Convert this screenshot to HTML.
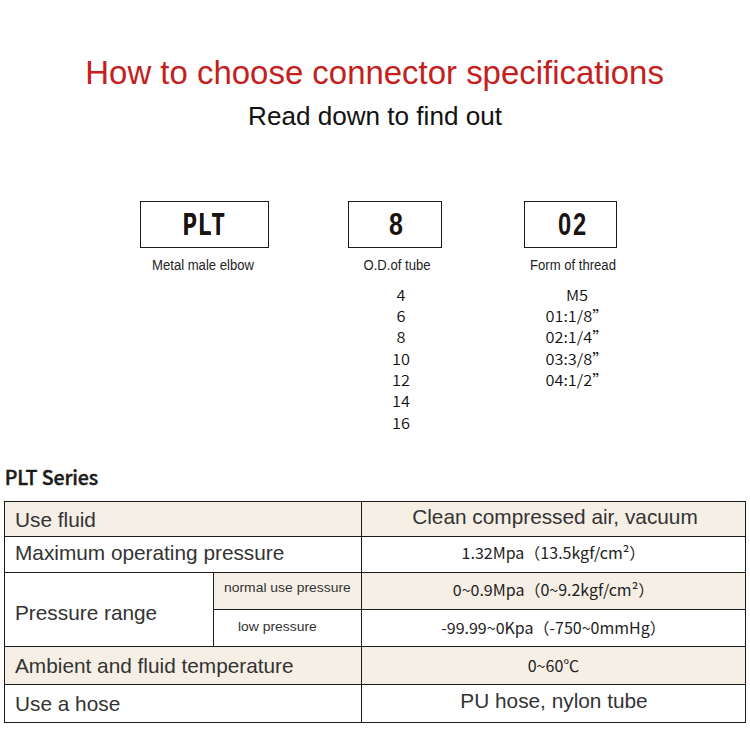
<!DOCTYPE html>
<html><head><meta charset="utf-8">
<style>
html,body{margin:0;padding:0;background:#fff;}
body{width:750px;height:750px;position:relative;overflow:hidden;font-family:"Liberation Sans",sans-serif;color:#222;}
.abs{position:absolute;white-space:nowrap;line-height:1;}
#title{left:-0.4px;width:750px;text-align:center;top:57px;font-size:32.95px;color:#c4201c;}
#sub{left:0;width:750px;text-align:center;top:103.4px;font-size:26.1px;color:#111;}
.box{position:absolute;border:1px solid #1a1a1a;box-sizing:border-box;top:201px;height:47px;}
.box span{position:absolute;left:0;right:0;top:5px;text-align:center;font-weight:bold;font-size:32px;line-height:34px;color:#1a1311;transform-origin:50% 50%;}
.cap{font-size:14px;color:#222;top:258px;text-align:center;transform:scaleX(0.935);}
.list{font-family:"Noto Sans CJK SC","Liberation Sans",sans-serif;font-weight:350;font-size:15px;line-height:21.33px;text-align:center;color:#111;white-space:nowrap;position:absolute;transform:scaleX(1.09);}
#series{font-family:"Noto Sans CJK SC","Liberation Sans",sans-serif;font-weight:500;font-size:19.6px;left:4.8px;top:467px;color:#1a1a1a;letter-spacing:-0.12px;-webkit-text-stroke:0.4px #1a1a1a;}
#tbl{position:absolute;left:4px;top:501px;width:742px;height:222px;border:1px solid #1a1a1a;box-sizing:border-box;}
.bg{position:absolute;background:#f6efe6;}
.hl{position:absolute;height:1px;background:#1a1a1a;}
.vl{position:absolute;width:1px;background:#1a1a1a;}
.l{font-size:20.8px;color:#333;left:15px;}
.s{font-size:13.5px;color:#333;transform:scaleX(1.03);transform-origin:0 50%;}
.r{font-size:20.8px;color:#333;left:361px;width:385px;text-align:center;}
.n{font-family:"Noto Sans CJK SC","Liberation Sans",sans-serif;font-weight:400;font-size:15.6px;color:#222;left:361px;width:385px;text-align:center;transform:scaleX(1.026);}
</style></head><body>
<div id="title" class="abs">How to choose connector specifications</div>
<div id="sub" class="abs">Read down to find out</div>

<div class="box" style="left:140px;width:129px;"><span style="transform:scaleX(0.62);letter-spacing:4px;left:1px;text-shadow:0.3px 0 0 #1a1311,-0.3px 0 0 #1a1311;">PLT</span></div>
<div class="box" style="left:348px;width:94px;"><span style="transform:scaleX(0.78);left:2px;">8</span></div>
<div class="box" style="left:524px;width:93px;"><span style="transform:scaleX(0.74);letter-spacing:2.6px;left:5px;">02</span></div>

<div class="abs cap" style="left:103px;width:200px;">Metal male elbow</div>
<div class="abs cap" style="left:297px;width:200px;">O.D.of tube</div>
<div class="abs cap" style="left:473px;width:200px;">Form of thread</div>

<div class="list" style="left:350.5px;width:100px;top:283.6px;">4<br>6<br>8<br>10<br>12<br>14<br>16</div>
<div class="list" style="left:527px;width:100px;top:283.6px;">M5<br>01:1/8”<br>02:1/4”<br>03:3/8”<br>04:1/2”</div>

<div id="series" class="abs">PLT Series</div>

<div class="bg" style="left:5px;top:502px;width:740px;height:34px;"></div>
<div class="bg" style="left:214px;top:573px;width:531px;height:36px;"></div>
<div class="bg" style="left:5px;top:647px;width:740px;height:37px;"></div>
<div id="tbl"></div>
<div class="hl" style="left:4px;width:742px;top:536px;"></div>
<div class="hl" style="left:4px;width:742px;top:572px;"></div>
<div class="hl" style="left:213px;width:533px;top:609px;"></div>
<div class="hl" style="left:4px;width:742px;top:646px;"></div>
<div class="hl" style="left:4px;width:742px;top:684px;"></div>
<div class="vl" style="left:361px;top:501px;height:222px;"></div>
<div class="vl" style="left:213px;top:572px;height:75px;"></div>

<div class="abs l" style="top:510px;">Use fluid</div>
<div class="abs l" style="top:543px;">Maximum operating pressure</div>
<div class="abs l" style="top:603px;">Pressure range</div>
<div class="abs l" style="top:656px;">Ambient and fluid temperature</div>
<div class="abs l" style="top:694px;">Use a hose</div>

<div class="abs s" style="left:224px;top:581px;">normal use pressure</div>
<div class="abs s" style="left:238px;top:620px;">low pressure</div>

<div class="abs r" style="top:507px;left:362.5px;">Clean compressed air, vacuum</div>
<div class="abs n" style="top:545px;">1.32Mpa（13.5kgf/cm²）</div>
<div class="abs n" style="top:582px;">0~0.9Mpa（0~9.2kgf/cm²）</div>
<div class="abs n" style="top:620px;">-99.99~0Kpa（-750~0mmHg）</div>
<div class="abs n" style="top:658px;">0~60℃</div>
<div class="abs r" style="top:691px;left:361.5px;">PU hose, nylon tube</div>
</body></html>
